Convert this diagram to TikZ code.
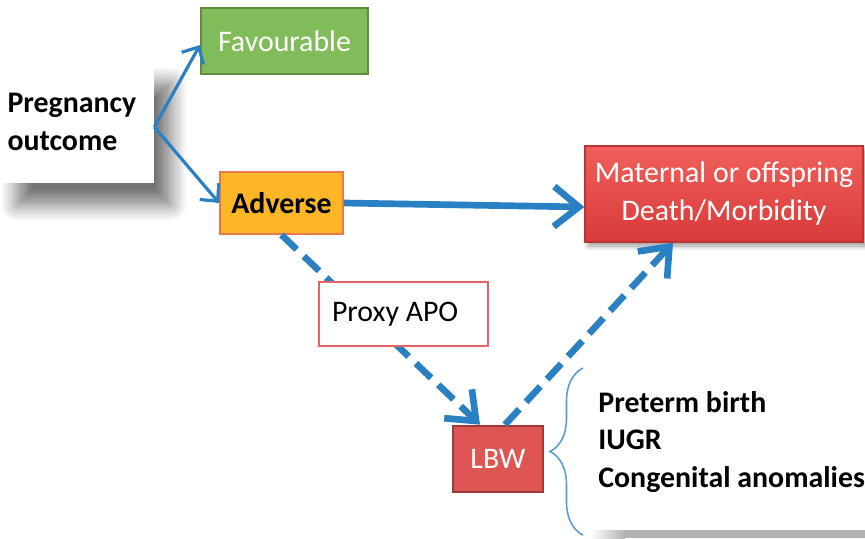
\documentclass[tikz,border=0pt]{standalone}
\usepackage{fontspec}
\setmainfont{Carlito}
\usepackage{tikz}
\usetikzlibrary{shapes,arrows.meta,positioning,shadows.blur,decorations.pathreplacing}
\definecolor{ArrowBlue}{RGB}{41, 128, 195}
\definecolor{FavGreen}{RGB}{128, 189, 90}
\definecolor{FavGreenDark}{RGB}{94, 140, 60}
\definecolor{AdvOrange}{RGB}{252, 182, 38}
\definecolor{AdvBorder}{RGB}{232, 120, 80}
\definecolor{MatRedTop}{RGB}{240, 96, 92}
\definecolor{MatRedBot}{RGB}{216, 58, 56}
\definecolor{MatRedDark}{RGB}{190, 50, 50}
\definecolor{LbwRed}{RGB}{222, 86, 84}
\definecolor{LbwDark}{RGB}{160, 56, 56}
\definecolor{ProxyRed}{RGB}{226, 100, 100}
\definecolor{BraceBlue}{RGB}{91, 155, 213}

\begin{document}
\begin{tikzpicture}[x=0.02cm, y=-0.02cm,
    box/.style={rectangle, inner sep=0pt, align=center, font=\fontsize{17}{21.6}\selectfont},
    boldbox/.style={box, font=\fontsize{17}{21.6}\selectfont\bfseries},
    thin arrow/.style={ArrowBlue, line width=1.8pt, -{Straight Barb[length=0.26cm,width=0.5cm]}},
    thick arrow/.style={ArrowBlue, line width=3.8pt, -{Straight Barb[length=0.5cm,width=0.8cm]}},
    dashed arrow/.style={thick arrow, dash pattern=on 0.42cm off 0.2cm}]
    \useasboundingbox (0,0) rectangle (865,538);

    % Outcome boxes
    \node[boldbox, fill=white, minimum width=3.08cm, minimum height=2.44cm, text width=2.78cm, align=flush left,
      blur shadow={shadow xshift=0.34cm, shadow yshift=-0.44cm, shadow opacity=55, shadow blur radius=0.32cm, shadow blur steps=14}]
      (preg) at (77,122) {Pregnancy\\outcome};
    \node[box, fill=FavGreen, draw=FavGreenDark, line width=1.2pt, text=white,
      minimum width=3.34cm, minimum height=1.32cm] (fav) at (284.5,41) {Favourable};
    \node[boldbox, fill=AdvOrange, draw=AdvBorder, line width=1pt,
      minimum width=2.46cm, minimum height=1.24cm] (adv) at (281.5,203) {Adverse};
    \node[box, top color=MatRedTop, bottom color=MatRedBot, draw=MatRedDark, line width=0.8pt, text=white,
      minimum width=5.56cm, minimum height=1.92cm,
      blur shadow={shadow xshift=0.06cm, shadow yshift=-0.08cm, shadow opacity=40, shadow blur radius=0.1cm}]
      (mat) at (724,194) {Maternal or offspring\\Death/Morbidity};
    \node[box, fill=LbwRed, draw=LbwDark, line width=1.5pt, text=white,
      minimum width=1.8cm, minimum height=1.32cm] (lbw) at (498,459) {LBW};

    % Connectors
    \draw[thin arrow] ([yshift=-0.1cm]preg.east) -- ([yshift=-0.08cm]fav.west);
    \draw[thin arrow] ([yshift=-0.1cm]preg.east) -- (adv.west);
    \draw[thick arrow] (adv.east) -- ([yshift=-0.26cm]mat.west);
    \draw[dashed arrow] (adv.south) -- ([xshift=-0.36cm]lbw.north);
    \draw[dashed arrow] ([xshift=0.14cm]lbw.north) -- ([xshift=-1.02cm]mat.south);

    % Proxy box sits over the dashed line
    \node[box, fill=white, draw=ProxyRed, line width=1.2pt, text width=2.86cm, align=flush left,
      minimum width=3.38cm, minimum height=1.28cm] (proxy) at (403.5,314) {Proxy APO};

    % Brace and list
    \coordinate (braceBot) at (583,535);
    \coordinate (braceTop) at (583,368);
    \draw[BraceBlue, line width=0.9pt, decorate, decoration={brace, amplitude=0.66cm}] (braceBot) -- (braceTop);
    \node[boldbox, align=flush left, anchor=west] (list) at (598,442) {Preterm birth\\IUGR\\Congenital anomalies};
    \shade[left color=white, right color=gray!60] (590,530) rectangle (625,538);
    \fill[gray!60] (625,530) rectangle (865,538);
\end{tikzpicture}
\end{document}
